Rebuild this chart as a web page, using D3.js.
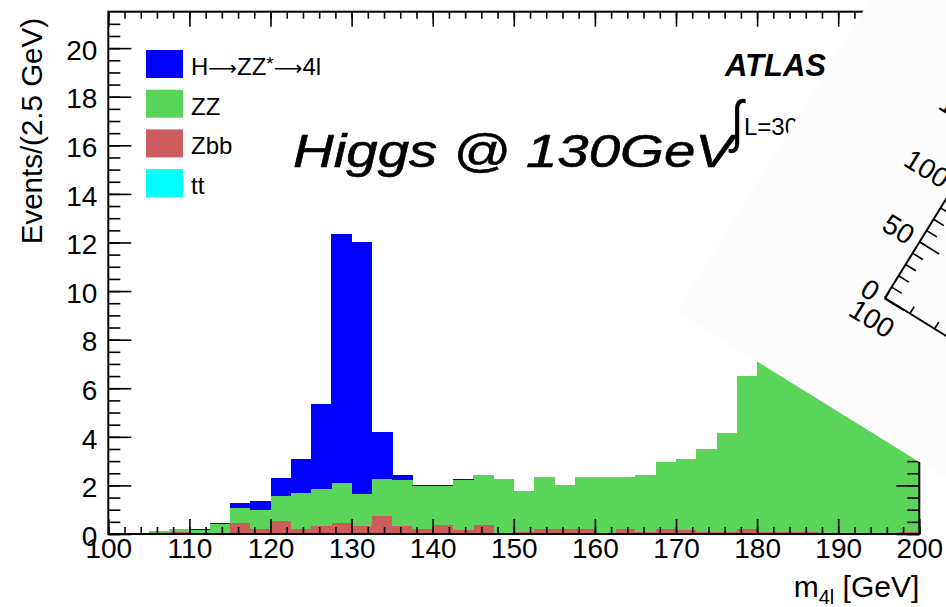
<!DOCTYPE html>
<html>
<head>
<meta charset="utf-8">
<script src="https://cdn.jsdelivr.net/npm/d3@7"></script>
<style>
  body { margin: 0; background: #ffffff; }
  svg { display: block; }
  text { font-family: "Liberation Sans", Arial, Helvetica, sans-serif; fill: #000; }
</style>
</head>
<body>
<svg id="chart" width="946" height="607"></svg>
<script>
// Lower edges of the 2.5 GeV mass bins, m4l from 100 to 200 GeV
const binLow = [100, 102.5, 105, 107.5, 110, 112.5, 115, 117.5, 120, 122.5,
                125, 127.5, 130, 132.5, 135, 137.5, 140, 142.5, 145, 147.5,
                150, 152.5, 155, 157.5, 160, 162.5, 165, 167.5, 170, 172.5,
                175, 177.5, 180, 182.5, 185, 187.5, 190, 192.5, 195, 197.5];
const binWidth = 2.5;

// Expected events per bin for each process
const ttEvents  = [0, 0, 0, 0, 0, 0, 0, 0, 0, 0,
                   0, 0, 0, 0, 0, 0, 0, 0, 0, 0,
                   0, 0, 0, 0, 0, 0, 0, 0, 0, 0,
                   0, 0, 0, 0, 0, 0, 0, 0, 0, 0];
const zbbEvents = [0, 0, 0, 0.09, 0, 0, 0.45, 0.20, 0.53, 0.20,
                   0.34, 0.45, 0.34, 0.75, 0.34, 0.20, 0.38, 0.18, 0.38, 0.05,
                   0.07, 0.20, 0.20, 0.20, 0.04, 0.20, 0.08, 0.20, 0.16, 0.08,
                   0.08, 0.20, 0.08, 0.08, 0.08, 0.03, 0, 0, 0, 0.08];
const zzEvents  = [0, 0, 0.12, 0.11, 0.16, 0.42, 0.62, 0.80, 1.05, 1.49,
                   1.51, 1.65, 1.31, 1.51, 1.88, 1.79, 1.61, 2.06, 2.05, 2.21,
                   1.70, 2.15, 1.82, 2.15, 2.31, 2.15, 2.35, 2.76, 2.93, 3.42,
                   4.08, 6.30, 7.30, 7.80, 7.90, 7.70, 7.40, 7.10, 6.80, 6.50];
const higgsEvents = [0, 0, 0, 0, 0.04, 0.05, 0.22, 0.36, 0.74, 1.40,
                   3.51, 10.25, 10.37, 1.95, 0.21, 0.03, 0.03, 0.04, 0, 0,
                   0, 0, 0, 0, 0, 0, 0, 0, 0, 0,
                   0, 0, 0, 0, 0, 0, 0, 0, 0, 0];

const processKeys   = ["tt", "Zbb", "ZZ", "H"];
const processColors = { H: "#0000ff", ZZ: "#5ad55a", Zbb: "#cd5c5c", tt: "#00ffff" };
const legendLabels  = ["H", "ZZ", "Zbb", "tt"];

const xMajorTicks = [100, 110, 120, 130, 140, 150, 160, 170, 180, 190, 200];
const yMajorTicks = [0, 2, 4, 6, 8, 10, 12, 14, 16, 18, 20];

// Rotated inset axes
const insetYTicks = [0, 50, 100, 150];

const svg = d3.select("#chart");

const x = d3.scaleLinear().domain([100, 200]).range([108.3, 919.3]);
const y = d3.scaleLinear().domain([0, 21.5]).range([534, 11.7]);

// Stacked histogram
const table = binLow.map((lo, i) => ({
  lo, tt: ttEvents[i], Zbb: zbbEvents[i], ZZ: zzEvents[i], H: higgsEvents[i]
}));
const stacked = d3.stack().keys(processKeys)(table);

const bars = svg.append("g").attr("shape-rendering", "crispEdges");
stacked.forEach(layer => {
  bars.append("g")
    .attr("fill", processColors[layer.key])
    .selectAll("rect")
    .data(layer.filter(d => d[1] - d[0] > 0))
    .join("rect")
      .attr("x", d => x(d.data.lo))
      .attr("width", d => x(d.data.lo + binWidth) - x(d.data.lo) + 0.4)
      .attr("y", d => y(d[1]))
      .attr("height", d => y(d[0]) - y(d[1]));
});

// Axes: ticks on all four sides, ROOT style
const xMinor = d3.range(100, 200.01, 2);
const yMinor = d3.range(0, 21.5, 0.5);

function tickAxis(axisFn, scale, values, size, transform) {
  const g = svg.append("g")
    .attr("transform", transform)
    .call(axisFn(scale).tickValues(values).tickSize(size).tickFormat(""));
  g.select(".domain").remove();
  g.selectAll("line").attr("stroke", "#000").attr("stroke-width", 1.6);
  return g;
}
tickAxis(d3.axisTop, x, xMinor, 7, `translate(0,${y(0)})`);
tickAxis(d3.axisTop, x, xMajorTicks, 15, `translate(0,${y(0)})`);
tickAxis(d3.axisBottom, x, xMinor, 7, `translate(0,${y.range()[1]})`);
tickAxis(d3.axisBottom, x, xMajorTicks, 15, `translate(0,${y.range()[1]})`);
tickAxis(d3.axisRight, y, yMinor, 12, `translate(${x(100)},0)`);
tickAxis(d3.axisRight, y, yMajorTicks, 23, `translate(${x(100)},0)`);
tickAxis(d3.axisLeft, y, yMinor, 12, `translate(${x(200)},0)`);
tickAxis(d3.axisLeft, y, yMajorTicks, 23, `translate(${x(200)},0)`);

// Frame
svg.append("rect")
  .attr("x", x(100)).attr("y", y.range()[1])
  .attr("width", x(200) - x(100)).attr("height", y(0) - y.range()[1])
  .attr("fill", "none").attr("stroke", "#000").attr("stroke-width", 2);

// Tick labels
const yLab = svg.append("g")
  .attr("transform", `translate(${x(100)},0)`)
  .call(d3.axisLeft(y).tickValues(yMajorTicks).tickSize(0).tickPadding(11));
yLab.select(".domain").remove();
yLab.selectAll("text").attr("font-size", 28).attr("font-family", null).attr("dy", "0.4em");

const xLab = svg.append("g")
  .attr("transform", `translate(0,${y(0)})`)
  .call(d3.axisBottom(x).tickValues(xMajorTicks).tickSize(0).tickPadding(4));
xLab.select(".domain").remove();
xLab.selectAll("text").attr("font-size", 28).attr("font-family", null).attr("dy", "0.71em");

// Axis titles
svg.append("text")
  .attr("transform", "translate(42,18) rotate(-90)")
  .attr("text-anchor", "end")
  .attr("font-size", 29.5)
  .text("Events/(2.5 GeV)");

const xTitle = svg.append("text")
  .attr("x", x(200)).attr("y", 597)
  .attr("text-anchor", "end")
  .attr("font-size", 30);
xTitle.append("tspan").text("m");
xTitle.append("tspan").attr("font-size", 20).attr("dy", 7).text("4l");
xTitle.append("tspan").attr("dy", -7).text(" [GeV]");

// Legend
const legend = svg.append("g").attr("transform", "translate(146,50)");
legendLabels.forEach((key, i) => {
  const row = legend.append("g").attr("transform", `translate(0,${i * 39.7})`);
  row.append("rect").attr("width", 37).attr("height", 28).attr("fill", processColors[key]);
  const t = row.append("text").attr("x", 45).attr("y", 25).attr("font-size", 24);
  if (key === "H") {
    t.append("tspan").text("H");
    t.append("tspan").attr("font-family", "DejaVu Sans").attr("font-size", 20).text("\u27F6");
    t.append("tspan").text("ZZ");
    t.append("tspan").attr("font-size", 19).attr("dy", -5).text("*");
    t.append("tspan").attr("dy", 5).attr("font-family", "DejaVu Sans").attr("font-size", 20).text("\u27F6");
    t.append("tspan").text("4l");
  } else {
    t.text(key);
  }
});

// Experiment label and luminosity
svg.append("text")
  .attr("x", 725).attr("y", 76)
  .attr("font-size", 31).attr("font-weight", "bold").attr("font-style", "italic")
  .text("ATLAS");

svg.append("text")
  .attr("transform", "translate(731,141) scale(1,1.25)")
  .attr("font-size", 46).attr("font-family", "DejaVu Sans")
  .text("\u222B");
svg.append("text")
  .attr("x", 744).attr("y", 135)
  .attr("font-size", 24)
  .text("L=30 fb\u207B\u00B9");

// Hand-written note
svg.append("text")
  .attr("x", 293).attr("y", 167)
  .attr("font-family", "DejaVu Sans")
  .attr("font-style", "italic")
  .attr("font-size", 46)
  .attr("stroke", "#000").attr("stroke-width", 0.6)
  .attr("textLength", 440).attr("lengthAdjust", "spacingAndGlyphs")
  .text("Higgs @ 130GeV");

// Rotated inset panel lying over the upper right corner
const tilt = 31.75;
const inset = svg.append("g").attr("transform", `translate(677,312) rotate(${tilt})`);
inset.append("rect")
  .attr("x", 0).attr("y", -1400).attr("width", 1400).attr("height", 1400)
  .attr("fill", "#fcfcfc");

const ox = 169.4, oy = -121.3;
const iy = d3.scaleLinear().domain([0, 200]).range([oy, oy - 266]);
const ix = d3.scaleLinear().domain([100, 300]).range([ox, ox + 580]);

function insetTicks(axisFn, scale, values, size, transform) {
  const g = inset.append("g")
    .attr("transform", transform)
    .call(axisFn(scale).tickValues(values).tickSize(size).tickFormat(""));
  g.select(".domain").remove();
  g.selectAll("line").attr("stroke", "#000").attr("stroke-width", 1.6);
}
insetTicks(d3.axisRight, iy, d3.range(0, 200.1, 10), 12, `translate(${ox},0)`);
insetTicks(d3.axisRight, iy, insetYTicks, 23, `translate(${ox},0)`);
insetTicks(d3.axisTop, ix, d3.range(100, 300.1, 10), 8, `translate(0,${oy})`);

inset.append("line")
  .attr("x1", ox).attr("y1", iy(0)).attr("x2", ox).attr("y2", iy(200))
  .attr("stroke", "#000").attr("stroke-width", 2);
inset.append("line")
  .attr("x1", ix(100)).attr("y1", oy).attr("x2", ix(300)).attr("y2", oy)
  .attr("stroke", "#000").attr("stroke-width", 2);

const iyLab = inset.append("g")
  .attr("transform", `translate(${ox},0)`)
  .call(d3.axisLeft(iy).tickValues(insetYTicks).tickSize(0).tickPadding(9));
iyLab.select(".domain").remove();
iyLab.selectAll("text").attr("font-size", 28).attr("font-family", null).attr("dy", "0.36em");

inset.append("text")
  .attr("x", ix(100)).attr("y", oy + 34)
  .attr("text-anchor", "middle")
  .attr("font-size", 28)
  .text("100");
</script>
</body>
</html>
